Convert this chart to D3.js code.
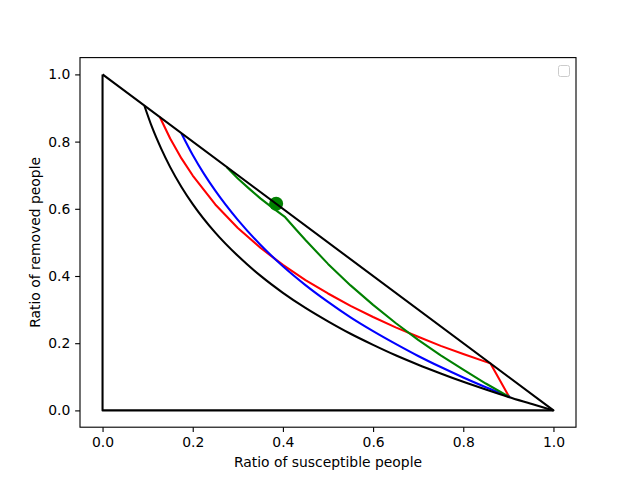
<!DOCTYPE html>
<html lang="en">
<head>
  <meta charset="UTF-8">
  <title>SIR phase plane</title>
  <script src="https://d3js.org/d3.v7.min.js"></script>
  <style>
    body { margin: 0; background: #fff; }
    text { font-family: "DejaVu Sans", sans-serif; font-size: 13.9px; fill: #000; }
  </style>
</head>
<body>
  <svg width="640" height="480"></svg>
  <script>
    // values: S = susceptible ratio, R = removed ratio
    const triangleS = [0, 1, 0, 0];
    const triangleR = [1, 0, 0, 1];

    const blackS = [0.093, 0.11, 0.13, 0.15, 0.175, 0.2, 0.25, 0.3, 0.35, 0.4, 0.45, 0.5, 0.55, 0.6, 0.65, 0.7, 0.75, 0.8, 0.85, 0.9, 0.95, 1.0];
    const blackR = [0.906, 0.842, 0.779, 0.724, 0.665, 0.614, 0.529, 0.460, 0.401, 0.350, 0.305, 0.265, 0.228, 0.195, 0.164, 0.136, 0.110, 0.085, 0.062, 0.040, 0.020, 0.0];

    const redS = [0.127, 0.15, 0.175, 0.2, 0.25, 0.3, 0.35, 0.4, 0.45, 0.5, 0.55, 0.6, 0.65, 0.7, 0.75, 0.8, 0.86, 0.902];
    const redR = [0.873, 0.809, 0.750, 0.699, 0.613, 0.543, 0.484, 0.433, 0.388, 0.348, 0.311, 0.278, 0.247, 0.219, 0.192, 0.168, 0.140, 0.040];

    const blueS = [0.175, 0.2, 0.225, 0.25, 0.3, 0.35, 0.4, 0.45, 0.5, 0.55, 0.6, 0.65, 0.7, 0.75, 0.8, 0.85, 0.904];
    const blueR = [0.824, 0.760, 0.704, 0.654, 0.567, 0.493, 0.429, 0.373, 0.323, 0.277, 0.236, 0.198, 0.162, 0.129, 0.098, 0.069, 0.040];

    const greenS = [0.275, 0.3, 0.325, 0.35, 0.375, 0.405, 0.43, 0.45, 0.5, 0.55, 0.6, 0.65, 0.7, 0.75, 0.8, 0.85, 0.902];
    const greenR = [0.724, 0.690, 0.660, 0.631, 0.605, 0.575, 0.537, 0.507, 0.436, 0.372, 0.314, 0.260, 0.210, 0.164, 0.121, 0.080, 0.040];

    const dotS = [0.385];
    const dotR = [0.615];

    const xTicks = [0.0, 0.2, 0.4, 0.6, 0.8, 1.0];
    const yTicks = [0.0, 0.2, 0.4, 0.6, 0.8, 1.0];

    const margin = { left: 80, right: 64, top: 57.6, bottom: 52.8 };
    const W = 640, H = 480;
    const svg = d3.select("svg");

    const x = d3.scaleLinear().domain([-0.05, 1.05]).range([margin.left, W - margin.right]);
    const y = d3.scaleLinear().domain([-0.05, 1.05]).range([H - margin.bottom, margin.top]);

    const zip = (a, b) => a.map((v, i) => [v, b[i]]);
    const line = d3.line().x(d => x(d[0])).y(d => y(d[1]));
    const smooth = d3.line().x(d => x(d[0])).y(d => y(d[1])).curve(d3.curveMonotoneX);

    // green marker (drawn under the lines)
    svg.selectAll(".dot")
      .data(zip(dotS, dotR))
      .enter()
      .append("circle")
      .attr("cx", d => x(d[0]))
      .attr("cy", d => y(d[1]))
      .attr("r", 7)
      .attr("fill", "green");

    const series = [
      { s: redS, r: redR, color: "red", gen: line },
      { s: blueS, r: blueR, color: "blue", gen: smooth },
      { s: greenS, r: greenR, color: "green", gen: line },
      { s: triangleS, r: triangleR, color: "black", gen: line },
      { s: blackS, r: blackR, color: "black", gen: smooth }
    ];

    svg.selectAll(".curve")
      .data(series)
      .enter()
      .append("path")
      .attr("d", d => d.gen(zip(d.s, d.r)))
      .attr("fill", "none")
      .attr("stroke", d => d.color)
      .attr("stroke-width", 2.08)
      .attr("stroke-linejoin", "round");

    // axes
    const xAxis = d3.axisBottom(x).tickValues(xTicks).tickFormat(d3.format(".1f")).tickSize(4.86).tickPadding(4.86);
    const yAxis = d3.axisLeft(y).tickValues(yTicks).tickFormat(d3.format(".1f")).tickSize(4.86).tickPadding(4.86);

    const gx = svg.append("g").attr("transform", `translate(0,${H - margin.bottom})`).call(xAxis);
    const gy = svg.append("g").attr("transform", `translate(${margin.left},0)`).call(yAxis);
    [gx, gy].forEach(g => {
      g.select(".domain").remove();
      g.selectAll("line").attr("stroke", "#000").attr("stroke-width", 1.11);
      g.selectAll("text").style("font-family", "DejaVu Sans").style("font-size", "13.9px").attr("fill", "#000");
    });

    // frame
    svg.append("rect")
      .attr("x", margin.left)
      .attr("y", margin.top)
      .attr("width", W - margin.left - margin.right)
      .attr("height", H - margin.top - margin.bottom)
      .attr("fill", "none")
      .attr("stroke", "#000")
      .attr("stroke-width", 1.11);

    // empty legend box
    svg.append("rect")
      .attr("x", 558.5)
      .attr("y", 65.5)
      .attr("width", 11)
      .attr("height", 11)
      .attr("rx", 2)
      .attr("fill", "#fff")
      .attr("stroke", "#ccc")
      .attr("stroke-width", 1);

    svg.append("text")
      .attr("x", (margin.left + W - margin.right) / 2)
      .attr("y", 467)
      .attr("text-anchor", "middle")
      .text("Ratio of susceptible people");

    svg.append("text")
      .attr("transform", `translate(40,${(margin.top + H - margin.bottom) / 2}) rotate(-90)`)
      .attr("text-anchor", "middle")
      .text("Ratio of removed people");
  </script>
</body>
</html>
